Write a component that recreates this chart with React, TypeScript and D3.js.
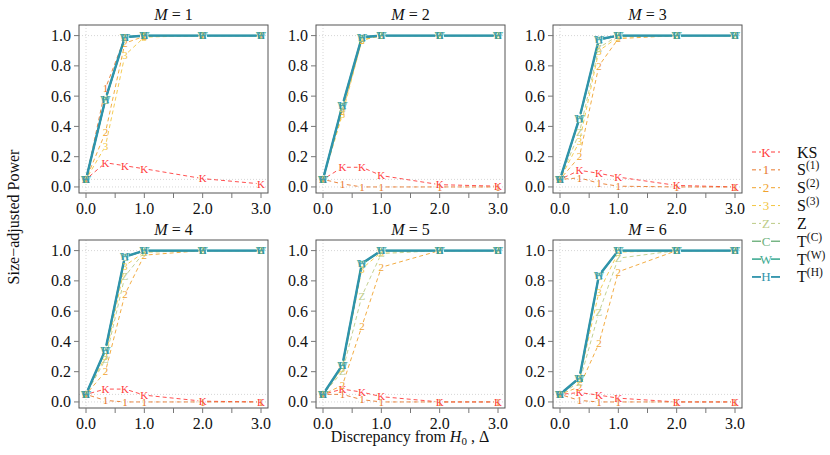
import React from "react";
import * as d3 from "d3";

const deltas = [0, 1 / 3, 2 / 3, 1, 2, 3];
const panelTitles = ["1", "2", "3", "4", "5", "6"];
const xTicks = [0, 0.5, 1, 1.5, 2, 2.5, 3];
const xTickLabels = ["0.0", "", "1.0", "", "2.0", "", "3.0"];
const yTicks = [0, 0.2, 0.4, 0.6, 0.8, 1.0];

const seriesKeys = ["K", "1", "2", "3", "Z", "C", "W", "H"];
const seriesNames = ["KS", "S(1)", "S(2)", "S(3)", "Z", "T(C)", "T(W)", "T(H)"];

const powerK = [
  [0.05, 0.16, 0.14, 0.12, 0.055, 0.02],
  [0.05, 0.13, 0.13, 0.075, 0.015, 0.005],
  [0.05, 0.11, 0.09, 0.065, 0.01, 0.0],
  [0.05, 0.085, 0.085, 0.045, 0.005, 0.0],
  [0.05, 0.085, 0.065, 0.035, 0.0, 0.0],
  [0.05, 0.062, 0.045, 0.025, 0.0, 0.0],
];
const powerS1 = [
  [0.05, 0.65, 0.99, 1, 1, 1],
  [0.05, 0.02, 0.0, 0.0, 0.0, 0.0],
  [0.05, 0.06, 0.025, 0.005, 0.0, 0.0],
  [0.05, 0.01, 0.0, 0.0, 0.0, 0.0],
  [0.05, 0.05, 0.015, 0.0, 0.0, 0.0],
  [0.05, 0.01, 0.0, 0.0, 0.0, 0.0],
];
const powerS2 = [
  [0.05, 0.36, 0.95, 0.995, 1, 1],
  [0.05, 0.5, 0.97, 1, 1, 1],
  [0.05, 0.2, 0.8, 0.98, 1, 1],
  [0.05, 0.2, 0.71, 0.97, 1, 1],
  [0.05, 0.11, 0.5, 0.89, 1, 1],
  [0.05, 0.1, 0.385, 0.86, 1, 1],
];
const powerS3 = [
  [0.05, 0.27, 0.87, 0.99, 1, 1],
  [0.05, 0.48, 0.97, 1, 1, 1],
  [0.05, 0.3, 0.9, 0.99, 1, 1],
  [0.05, 0.3, 0.9, 0.99, 1, 1],
  [0.05, 0.22, 0.88, 0.99, 1, 1],
  [0.05, 0.15, 0.725, 0.99, 1, 1],
];
const powerZ = [
  [0.05, 0.57, 0.99, 1, 1, 1],
  [0.05, 0.52, 0.98, 1, 1, 1],
  [0.05, 0.36, 0.92, 1, 1, 1],
  [0.05, 0.28, 0.83, 0.99, 1, 1],
  [0.05, 0.2, 0.7, 0.98, 1, 1],
  [0.05, 0.13, 0.59, 0.95, 1, 1],
];
const powerC = [
  [0.05, 0.575, 0.99, 1, 1, 1],
  [0.05, 0.535, 0.985, 1, 1, 1],
  [0.05, 0.45, 0.97, 1, 1, 1],
  [0.05, 0.34, 0.955, 1, 1, 1],
  [0.05, 0.24, 0.91, 1, 1, 1],
  [0.05, 0.155, 0.83, 1, 1, 1],
];
const powerW = [
  [0.05, 0.58, 0.99, 1, 1, 1],
  [0.05, 0.54, 0.99, 1, 1, 1],
  [0.05, 0.455, 0.975, 1, 1, 1],
  [0.05, 0.345, 0.96, 1, 1, 1],
  [0.05, 0.245, 0.915, 1, 1, 1],
  [0.05, 0.16, 0.835, 1, 1, 1],
];
const powerH = [
  [0.05, 0.58, 0.99, 1, 1, 1],
  [0.05, 0.54, 0.99, 1, 1, 1],
  [0.05, 0.455, 0.975, 1, 1, 1],
  [0.05, 0.345, 0.96, 1, 1, 1],
  [0.05, 0.245, 0.915, 1, 1, 1],
  [0.05, 0.16, 0.835, 1, 1, 1],
];

const allSeries = [powerK, powerS1, powerS2, powerS3, powerZ, powerC, powerW, powerH];
const colors = ["#ff3b3b", "#e8782a", "#f0a32e", "#f3c640", "#bccb86", "#6fb27e", "#3fab93", "#2f93ab"];
const widths = [0.9, 0.9, 0.9, 0.9, 0.9, 1.4, 1.6, 2.4];
const dashes = ["4 3", "4 3", "4 3", "4 3", "4 3", null, null, null];

const FONT = "Liberation Serif, Times New Roman, Times, serif";

function Panel({ idx }: { idx: number }) {
  const col = idx % 3;
  const row = Math.floor(idx / 3);
  const left = 79 + col * 237;
  const top = 25 + row * 215;
  const w = 189;
  const h = 168;
  const x = d3.scaleLinear().domain([-0.12, 3.12]).range([left, left + w]);
  const y = d3.scaleLinear().domain([-0.04, 1.07]).range([top + h, top]);
  const gap = 4.4;

  const segs: React.ReactNode[] = [];
  const marks: React.ReactNode[] = [];
  allSeries.forEach((s, si) => {
    const vals = s[idx];
    const pts = vals.map((v, i) => [x(deltas[i]), y(v)] as [number, number]);
    for (let i = 0; i < pts.length - 1; i++) {
      const [x1, y1] = pts[i];
      const [x2, y2] = pts[i + 1];
      const len = Math.hypot(x2 - x1, y2 - y1);
      if (len <= 2 * gap) continue;
      const ux = (x2 - x1) / len;
      const uy = (y2 - y1) / len;
      segs.push(
        <line
          key={`s${si}-${i}`}
          x1={x1 + ux * gap}
          y1={y1 + uy * gap}
          x2={x2 - ux * gap}
          y2={y2 - uy * gap}
          stroke={colors[si]}
          strokeWidth={widths[si]}
          strokeDasharray={dashes[si] ?? undefined}
        />
      );
    }
    pts.forEach(([px, py], i) => {
      marks.push(
        <text
          key={`m${si}-${i}`}
          x={px}
          y={py + 3.8}
          textAnchor="middle"
          fontSize={11}
          fill={colors[si]}
          style={{ fontFamily: FONT }}
        >
          {seriesKeys[si]}
        </text>
      );
    });
  });

  return (
    <g>
      <line x1={x(0)} x2={x(0)} y1={top} y2={top + h} stroke="#cccccc" strokeWidth={0.8} strokeDasharray="1 2" />
      {[0, 0.05, 1].map((g) => (
        <line key={`g${g}`} x1={left} x2={left + w} y1={y(g)} y2={y(g)} stroke="#cccccc" strokeWidth={0.8} strokeDasharray="1 2" />
      ))}
      {segs}
      {marks}
      <rect x={left} y={top} width={w} height={h} fill="none" stroke="#555555" strokeWidth={1} />
      {xTicks.map((t, i) => (
        <g key={`xt${i}`}>
          <line x1={x(t)} x2={x(t)} y1={top + h} y2={top + h + 5} stroke="#777777" strokeWidth={1} />
          {xTickLabels[i] && (
            <text x={x(t)} y={top + h + 21} textAnchor="middle" fontSize={16} style={{ fontFamily: FONT }} fill="#111">
              {xTickLabels[i]}
            </text>
          )}
        </g>
      ))}
      {yTicks.map((t, i) => (
        <g key={`yt${i}`}>
          <line x1={left} x2={left - 5} y1={y(t)} y2={y(t)} stroke="#777777" strokeWidth={1} />
          <text x={left - 8} y={y(t) + 5.5} textAnchor="end" fontSize={16} style={{ fontFamily: FONT }} fill="#111">
            {d3.format(".1f")(t)}
          </text>
        </g>
      ))}
      <text x={left + w / 2} y={top - 5} textAnchor="middle" fontSize={16} style={{ fontFamily: FONT }} fill="#111">
        <tspan fontStyle="italic">M</tspan> = {panelTitles[idx]}
      </text>
    </g>
  );
}

function LegendLabel({ name }: { name: string }) {
  const m = name.match(/^(.+)\((.+)\)$/);
  if (!m) return <>{name}</>;
  return (
    <>
      {m[1]}
      <tspan dy={-6} fontSize={11.5}>({m[2]})</tspan>
    </>
  );
}

export default function App() {
  const legendY0 = 152;
  const legendStep = 17.85;
  return (
    <svg width={830} height={455} style={{ position: "absolute", left: 0, top: 0, background: "#fff", fontFamily: FONT }}>
      <rect x={0} y={0} width={830} height={455} fill="#fff" />
      {panelTitles.map((_, i) => (
        <Panel key={i} idx={i} />
      ))}
      <text
        transform="translate(19,217) rotate(-90)"
        textAnchor="middle"
        fontSize={16}
        style={{ fontFamily: FONT }}
        fill="#111"
      >
        Size−adjusted Power
      </text>
      <text x={410} y={442} textAnchor="middle" fontSize={16} style={{ fontFamily: FONT }} fill="#111">
        Discrepancy from <tspan fontStyle="italic">H</tspan>
        <tspan dy={3} fontSize={11}>0</tspan>
        <tspan dy={-3}> , Δ</tspan>
      </text>
      {seriesKeys.map((k, i) => {
        const ly = legendY0 + i * legendStep;
        const lw = widths[i] > 2 ? 1.8 : Math.max(widths[i], 1);
        return (
          <g key={`lg${k}`}>
            <line x1={752} x2={761} y1={ly} y2={ly} stroke={colors[i]} strokeWidth={lw} strokeDasharray={dashes[i] ?? undefined} />
            <line x1={771} x2={780} y1={ly} y2={ly} stroke={colors[i]} strokeWidth={lw} strokeDasharray={dashes[i] ?? undefined} />
            <text x={766} y={ly + 4.5} textAnchor="middle" fontSize={13} style={{ fontFamily: FONT }} fill={colors[i]}>
              {k}
            </text>
            <text x={797} y={ly + 5.5} fontSize={16} style={{ fontFamily: FONT }} fill="#111">
              <LegendLabel name={seriesNames[i]} />
            </text>
          </g>
        );
      })}
    </svg>
  );
}
